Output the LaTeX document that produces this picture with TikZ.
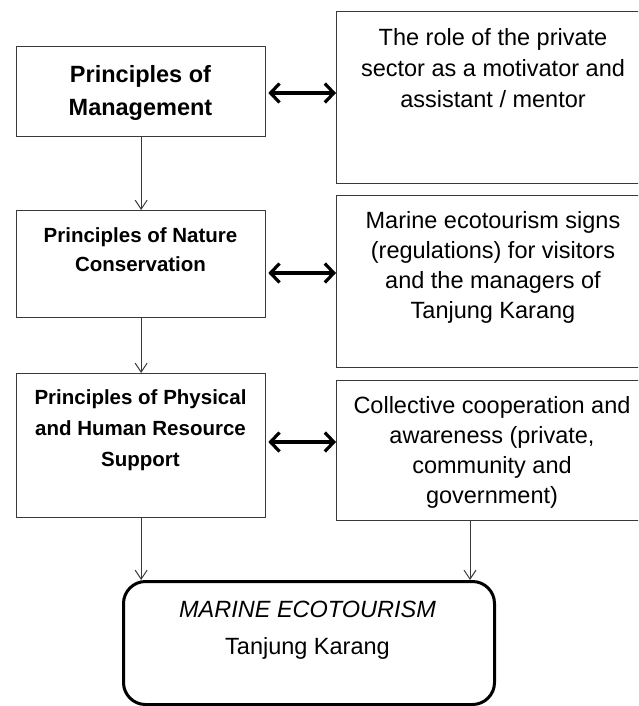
\documentclass[tikz,border=0pt]{standalone}
\usepackage{fontspec}
\setmainfont{Liberation Sans}
\usetikzlibrary{arrows.meta}
\definecolor{edge}{HTML}{3A3A3A}
\begin{document}
\begin{tikzpicture}[x=1pt,y=-1pt,
  box/.style={draw=edge, line width=1.3pt, rectangle, inner sep=0pt, anchor=north west},
  endbox/.style={draw=black, line width=3pt, rectangle, rounded corners=22pt, inner sep=0pt, anchor=north west},
  lefttext/.style={font=\bfseries\fontsize{20.5}{29}\selectfont, align=center, anchor=north, inner sep=0pt},
  righttext/.style={font=\fontsize{23.5}{30.5}\selectfont, align=center, anchor=north, inner sep=0pt},
  down/.style={draw=edge, line width=1pt, -{Straight Barb[length=9pt,width=12pt]}},
  dbl/.style={draw=black, line width=3.2pt, {Straight Barb[length=9pt,width=19pt]}-{Straight Barb[length=9pt,width=19pt]}, shorten <=2pt}]
\useasboundingbox (0,0) rectangle (638,706);
\fill[white] (0,0) rectangle (638,706);
\clip (0,0) rectangle (638,706);

% left column
\node[box, minimum width=249pt, minimum height=90pt] (lb1) at (16,46) {};
\node[box, minimum width=249pt, minimum height=107pt] (lb2) at (16,210) {};
\node[box, minimum width=249pt, minimum height=144pt] (lb3) at (16,373) {};
\node[lefttext, font=\bfseries\fontsize{23.5}{33}\selectfont] (t1) at (140.5,65) {Principles of\\Management};
\node[lefttext] (t2) at (140.5,227) {Principles of Nature\\Conservation};
\node[lefttext, font=\bfseries\fontsize{20.5}{31}\selectfont] (t3) at (140.5,389) {Principles of Physical\\and Human Resource\\Support};

% right column
\node[box, minimum width=314pt, minimum height=172pt] (rb1) at (336,11) {};
\node[box, minimum width=314pt, minimum height=172pt] (rb2) at (336,195) {};
\node[box, minimum width=314pt, minimum height=140pt] (rb3) at (336,380) {};
\node[righttext, font=\fontsize{23.5}{31}\selectfont] (r1) at (493,28) {The role of the private\\sector as a motivator and\\assistant / mentor};
\node[righttext, font=\fontsize{23.5}{30}\selectfont] (r2) at (493,211) {Marine ecotourism signs\\(regulations) for visitors\\and the managers of\\Tanjung Karang};
\node[righttext, font=\fontsize{23.5}{30}\selectfont] (r3) at (492,396) {Collective cooperation and\\awareness (private,\\community and\\government)};

% bottom
\node[endbox, minimum width=371pt, minimum height=123pt] (bot) at (122,580) {};
\node[righttext, font=\fontsize{23.5}{37}\selectfont] (bt) at (307.5,601) {\itshape MARINE ECOTOURISM\\Tanjung Karang};

% connectors
\coordinate (a1) at (0,93);
\coordinate (a2) at (0,273);
\coordinate (a3) at (0,442);
\coordinate (rx) at (470,0);
\draw[down] (lb1.south) -- (lb2.north);
\draw[down] (lb2.south) -- (lb3.north);
\draw[down] (lb3.south) -- (lb3.south |- bot.north);
\draw[down] (rb3.south -| rx) -- (bot.north -| rx);
\draw[dbl] (lb1.east |- a1) -- (rb1.west |- a1);
\draw[dbl] (lb2.east |- a2) -- (rb2.west |- a2);
\draw[dbl] (lb3.east |- a3) -- (rb3.west |- a3);
\end{tikzpicture}
\end{document}
